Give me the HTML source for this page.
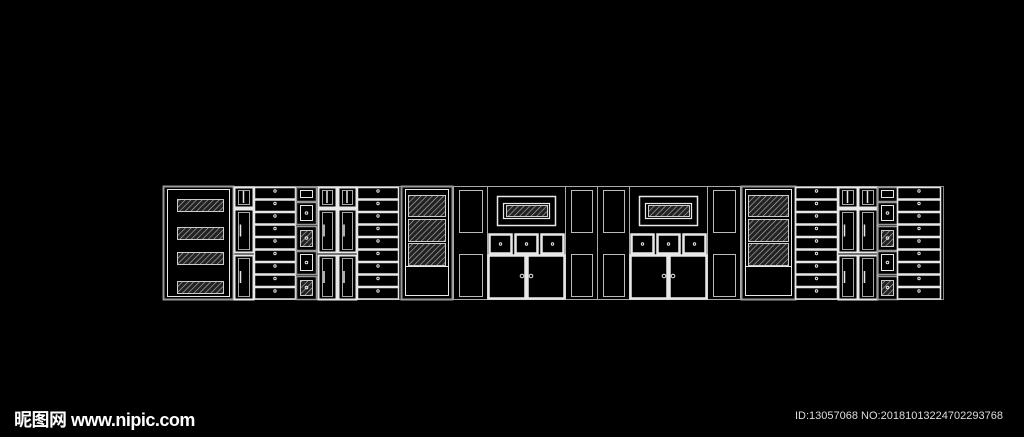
<!DOCTYPE html>
<html><head><meta charset="utf-8"><style>
html,body{margin:0;padding:0;background:#000;width:1024px;height:437px;overflow:hidden;position:relative}
svg{position:absolute;left:0;top:0}
.wm{position:absolute;left:14px;top:406px;color:#fff;font:bold 18px "Liberation Sans","Noto Sans CJK SC",sans-serif;letter-spacing:-0.5px}
.id{position:absolute;left:795px;top:410px;color:#ddd;font:11px "Liberation Sans",sans-serif;letter-spacing:0px}
</style></head><body>
<svg id="s" width="1024" height="437" viewBox="0 0 1024 437">
<defs><pattern id="h" width="4" height="4" patternUnits="userSpaceOnUse" patternTransform="rotate(45)"><rect width="4" height="4" fill="#222"/><line x1="0" y1="0" x2="0" y2="4" stroke="#bbb" stroke-width="1.2"/></pattern></defs>
<g id="g" fill="none" stroke="#e8e8e8" stroke-width="1"></g>
</svg>
<div class="wm">昵图网 www.nipic.com</div>
<div class="id">ID:13057068 NO:20181013224702293768</div>
<script>
var g=document.getElementById('g'),o='';
function R(x,y,w,h,a){o+='<rect x="'+x+'" y="'+y+'" width="'+w+'" height="'+h+'" '+(a||'')+'/>';}
function H(x,y,w,h){R(x,y,w,h,'fill="url(#h)" stroke="#ccc"');}
function C(x,y,r){o+='<circle cx="'+x+'" cy="'+y+'" r="'+(r||1.2)+'"/>';}
R(163.5,186.5,780,113,'stroke="#888"');
R(163.5,186.5,70,113,'stroke="#999" stroke-width="2"');R(167.5,189.5,62,107);
[199,227,252,281].forEach(function(y){H(177.5,y+.5,46,12);});
function doors(x,w,small){var ys=[[187,20],[209,43],[255,44]];ys.forEach(function(p,i){R(x+.5,p[0]+.5,w,p[1],'stroke-width="2"');R(x+4.5,p[0]+3.5,w-8,p[1]-6,'stroke="#aaa"');o+='<line x1="'+(x+w/2+(i?-3:0))+'" y1="'+(p[0]+p[1]/2-6)+'" x2="'+(x+w/2+(i?-3:0))+'" y2="'+(p[0]+p[1]/2+6)+'" stroke-width="1.5"/>';});}
function drawers(x,w){for(var i=0;i<9;i++){var y=187+i*12.5;R(x+.5,y+.5,w,11.5,'stroke-width="1.5"');C(x+w/2+.5,y+4,1.2);}}
function small(x){var b=[[187,14,0],[202,22,0],[226,24,1],[251,23,0],[276,23,1]];b.forEach(function(p,i){R(x+.5,p[0]+.5,20,p[1],'stroke="#999" stroke-width="1.5"');if(p[2])H(x+4.5,p[0]+4.5,12,p[1]-8);else R(x+4.5,p[0]+3.5,12,p[1]-7);if(i)C(x+10.5,p[0]+p[1]/2,1.3);});}
doors(234,19);drawers(254,41);small(296);doors(318,18);doors(338,18);drawers(357,41);
function tall(x,w){R(x+.5,186.5,w,113,'stroke="#999" stroke-width="2"');R(x+4.5,189.5,w-8,106);H(x+7.5,195.5,w-14,21);H(x+7.5,219.5,w-14,22);H(x+7.5,243.5,w-14,22);o+='<line x1="'+(x+4)+'" y1="266.5" x2="'+(x+w-4)+'" y2="266.5"/>';}
tall(401,51);tall(741,54);
function panel(x,w){R(x+.5,186.5,w,113,'stroke="#aaa"');R(x+6.5,190.5,w-11,42,'stroke="#bbb"');R(x+6.5,254.5,w-11,42,'stroke="#bbb"');}
panel(453,34);panel(565,32);panel(597,32);panel(707,33);
function unit(x){R(x+.5,186.5,78,113,'stroke="#aaa"');R(x+10.5,196.5,58,29,'stroke-width="1.5"');R(x+16.5,203.5,46,15,'stroke-width="1.2"');H(x+19.5,205.5,41,11);
for(var i=0;i<3;i++){R(x+2+i*26+.5,234.5,22,19,'stroke-width="2.5"');C(x+13.5+i*26,244,1.2);}
R(x+1.5,255.5,37,43,'stroke-width="2.5"');R(x+40.5,255.5,37,43,'stroke-width="2.5"');C(x+35,276,1.8);C(x+44,276,1.8);}
unit(487);unit(629);
drawers(795,42);doors(838,19);doors(858,19);small(877);drawers(897,43);
g.innerHTML=o;
</script>
</body></html>
